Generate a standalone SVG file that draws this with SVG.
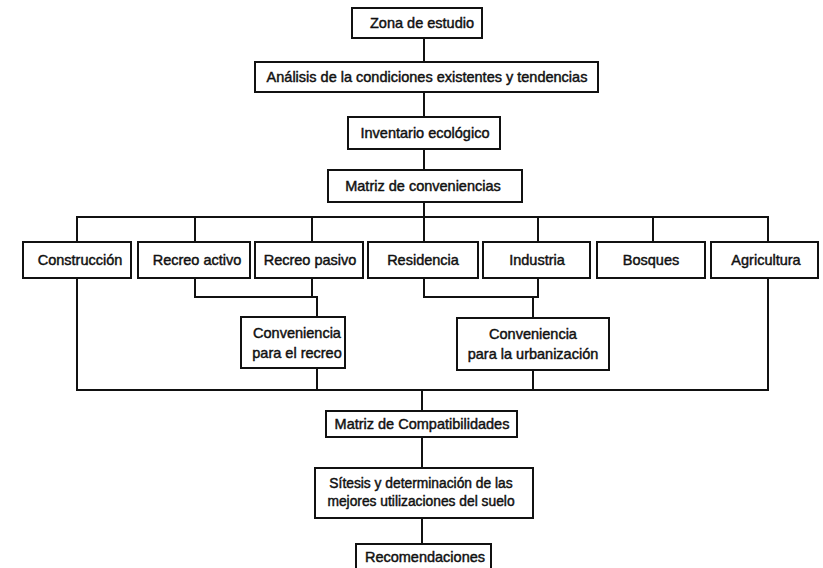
<svg xmlns="http://www.w3.org/2000/svg" width="823" height="568" viewBox="0 0 823 568">
<style>
.box{fill:#fff;stroke:#111;stroke-width:2}
.t{font-family:"Liberation Sans",Arial,sans-serif;font-size:14.5px;fill:#111;stroke:#111;stroke-width:0.45;text-anchor:middle}
.s{font-size:13.8px}
.c{fill:none;stroke:#111;stroke-width:2;stroke-linecap:square}
</style>
<rect width="823" height="568" fill="#fff"/>
<g id="connectors">
<path class="c" d="M424 38V62M424 92V117M424 149V170M424 202V242"/>
<path class="c" d="M77 217H768M77 217V242M195 217V242M312 217V242M538 217V242M653 217V242M768 217V242"/>
<path class="c" d="M195 278V297H312V278M312 297H317V317"/>
<path class="c" d="M424 278V297H538V278M533 297V318"/>
<path class="c" d="M77 278V390H768V278M317 368V390M533 370V390"/>
<path class="c" d="M422 390V411M422 437V468M422 518V544"/>
</g>
<g id="zona"><rect class="box" x="352" y="8" width="130" height="30"/><text class="t" x="422" y="28">Zona de estudio</text></g>
<g id="analisis"><rect class="box" x="255" y="62" width="343" height="30"/><text class="t" x="427" y="82">Análisis de la condiciones existentes y tendencias</text></g>
<g id="inventario"><rect class="box" x="348" y="117" width="152" height="32"/><text class="t" x="425" y="138">Inventario ecológico</text></g>
<g id="matriz-conv"><rect class="box" x="328" y="170" width="194" height="32"/><text class="t" x="423" y="191">Matriz de conveniencias</text></g>
<g id="construccion"><rect class="box" x="23" y="242" width="108" height="36"/><text class="t" x="80" y="265">Construcción</text></g>
<g id="recreo-activo"><rect class="box" x="138" y="242" width="112" height="36"/><text class="t" x="197" y="265">Recreo activo</text></g>
<g id="recreo-pasivo"><rect class="box" x="255" y="242" width="108" height="36"/><text class="t" x="310" y="265">Recreo pasivo</text></g>
<g id="residencia"><rect class="box" x="368" y="242" width="110" height="36"/><text class="t" x="423" y="265">Residencia</text></g>
<g id="industria"><rect class="box" x="483" y="242" width="107" height="36"/><text class="t" x="537" y="265">Industria</text></g>
<g id="bosques"><rect class="box" x="597" y="242" width="108" height="36"/><text class="t" x="651" y="265">Bosques</text></g>
<g id="agricultura"><rect class="box" x="711" y="242" width="107" height="36"/><text class="t" x="766" y="265">Agricultura</text></g>
<g id="conv-recreo"><rect class="box" x="241" y="317" width="104" height="51"/><text class="t" x="297" y="338">Conveniencia</text><text class="t" x="297" y="358">para el recreo</text></g>
<g id="conv-urb"><rect class="box" x="457" y="318" width="152" height="52"/><text class="t" x="533" y="339">Conveniencia</text><text class="t" x="533" y="359">para la urbanización</text></g>
<g id="matriz-compat"><rect class="box" x="326" y="411" width="191" height="26"/><text class="t" x="422" y="429">Matriz de Compatibilidades</text></g>
<g id="sintesis"><rect class="box" x="315" y="468" width="218" height="50"/><text class="t s" x="421" y="488">Sítesis y determinación de las</text><text class="t s" x="421" y="506">mejores utilizaciones del suelo</text></g>
<g id="recomendaciones"><rect class="box" x="356" y="544" width="135" height="34"/><text class="t" x="425" y="562">Recomendaciones</text></g>
</svg>
